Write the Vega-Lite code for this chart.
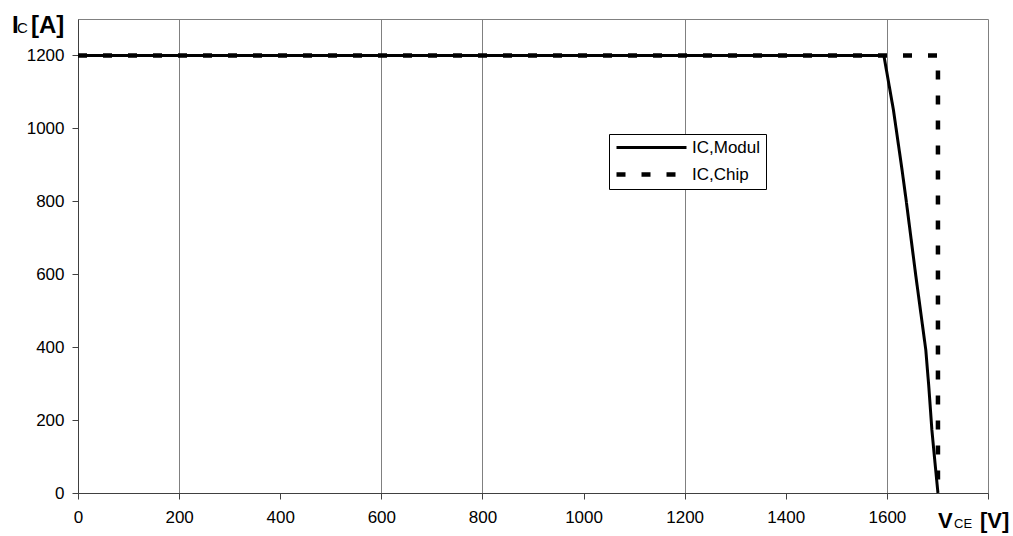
{
  "$schema": "https://vega.github.io/schema/vega-lite/v6.json",
  "autosize": "none",
  "width": 910,
  "height": 474,
  "padding": {"left": 78, "top": 19, "right": 25, "bottom": 43},
  "background": "white",
  "config": {
    "font": "Liberation Sans",
    "view": {"stroke": "#808080", "strokeWidth": 1},
    "axis": {"labelFont": "Liberation Sans", "labelFontSize": 17, "labelColor": "#000", "domainColor": "#404040", "tickColor": "#404040", "tickSize": 6, "title": null},
    "legend": {"title": null, "orient": "none", "legendX": 531, "legendY": 115,
      "symbolType": "M-1,0H9", "symbolSize": 196, "symbolStrokeColor": "#000",
      "labelFontSize": 17, "labelFont": "Liberation Sans", "labelColor": "#000", "labelOffset": 59,
      "strokeColor": "#000", "fillColor": "#fff", "padding": 5, "rowPadding": 9}
  },
  "datasets": {
    "curves": [
      {"series": "IC,Modul", "i": 0, "vce": 0, "ic": 1200},
      {"series": "IC,Modul", "i": 1, "vce": 1594, "ic": 1200},
      {"series": "IC,Modul", "i": 2, "vce": 1613, "ic": 1050},
      {"series": "IC,Modul", "i": 3, "vce": 1630, "ic": 886},
      {"series": "IC,Modul", "i": 4, "vce": 1638, "ic": 804},
      {"series": "IC,Modul", "i": 5, "vce": 1657, "ic": 598},
      {"series": "IC,Modul", "i": 6, "vce": 1677, "ic": 392},
      {"series": "IC,Modul", "i": 7, "vce": 1683, "ic": 290},
      {"series": "IC,Modul", "i": 8, "vce": 1689, "ic": 173},
      {"series": "IC,Modul", "i": 9, "vce": 1695, "ic": 85},
      {"series": "IC,Modul", "i": 10, "vce": 1701, "ic": 0},
      {"series": "IC,Chip", "i": 0, "vce": 0, "ic": 1200},
      {"series": "IC,Chip", "i": 1, "vce": 1701, "ic": 1200},
      {"series": "IC,Chip", "i": 2, "vce": 1701, "ic": 0}
    ],
    "one": [{}]
  },
  "layer": [
    {
      "data": {"name": "curves"},
      "mark": {"type": "line", "color": "#000", "strokeCap": "butt", "strokeJoin": "miter", "clip": false},
      "encoding": {
        "x": {"field": "vce", "type": "quantitative",
          "scale": {"domain": [0, 1800], "nice": false, "zero": false},
          "axis": {"values": [0, 200, 400, 600, 800, 1000, 1200, 1400, 1600, 1800],
            "labelExpr": "datum.value == 1800 ? '' : datum.label",
            "format": "d", "labelPadding": 10, "labelFlush": false,
            "grid": true, "gridColor": "#808080", "gridWidth": 1,
            "gridOpacity": {"condition": {"test": "indexof([200, 600, 800, 1200, 1600], datum.value) >= 0", "value": 1}, "value": 0}}},
        "y": {"field": "ic", "type": "quantitative",
          "scale": {"domain": [0, 1300], "nice": false},
          "axis": {"values": [0, 200, 400, 600, 800, 1000, 1200], "format": "d", "grid": false, "labelPadding": 8}},
        "order": {"field": "i", "type": "quantitative"},
        "strokeDash": {"field": "series", "type": "nominal",
          "scale": {"domain": ["IC,Modul", "IC,Chip"], "range": [[1, 0], [9, 16]]}},
        "strokeWidth": {"field": "series", "type": "nominal",
          "scale": {"domain": ["IC,Modul", "IC,Chip"], "range": [3, 4.5]}}
      }
    },
    {
      "data": {"name": "one"},
      "mark": {"type": "text", "text": "I", "font": "Liberation Sans", "fontWeight": "bold", "fontSize": 24, "align": "left", "baseline": "alphabetic", "dx": -66, "dy": 14, "color": "#000"},
      "encoding": {"x": {"datum": 0, "type": "quantitative"}, "y": {"datum": 1300, "type": "quantitative"}}
    },
    {
      "data": {"name": "one"},
      "mark": {"type": "text", "text": "C", "font": "Liberation Sans", "fontSize": 15, "align": "left", "baseline": "alphabetic", "dx": -61, "dy": 14, "color": "#000"},
      "encoding": {"x": {"datum": 0, "type": "quantitative"}, "y": {"datum": 1300, "type": "quantitative"}}
    },
    {
      "data": {"name": "one"},
      "mark": {"type": "text", "text": "[A]", "font": "Liberation Sans", "fontWeight": "bold", "fontSize": 24, "align": "left", "baseline": "alphabetic", "dx": -47, "dy": 14, "color": "#000"},
      "encoding": {"x": {"datum": 0, "type": "quantitative"}, "y": {"datum": 1300, "type": "quantitative"}}
    },
    {
      "data": {"name": "one"},
      "mark": {"type": "text", "text": "V", "font": "Liberation Sans", "fontWeight": "bold", "fontSize": 22, "align": "left", "baseline": "alphabetic", "dx": -50, "dy": 35, "color": "#000"},
      "encoding": {"x": {"datum": 1800, "type": "quantitative"}, "y": {"datum": 0, "type": "quantitative"}}
    },
    {
      "data": {"name": "one"},
      "mark": {"type": "text", "text": "CE", "font": "Liberation Sans", "fontSize": 13, "align": "left", "baseline": "alphabetic", "dx": -34, "dy": 35, "color": "#000"},
      "encoding": {"x": {"datum": 1800, "type": "quantitative"}, "y": {"datum": 0, "type": "quantitative"}}
    },
    {
      "data": {"name": "one"},
      "mark": {"type": "text", "text": "[V]", "font": "Liberation Sans", "fontWeight": "bold", "fontSize": 22, "align": "left", "baseline": "alphabetic", "dx": -8, "dy": 35, "color": "#000"},
      "encoding": {"x": {"datum": 1800, "type": "quantitative"}, "y": {"datum": 0, "type": "quantitative"}}
    }
  ]
}
